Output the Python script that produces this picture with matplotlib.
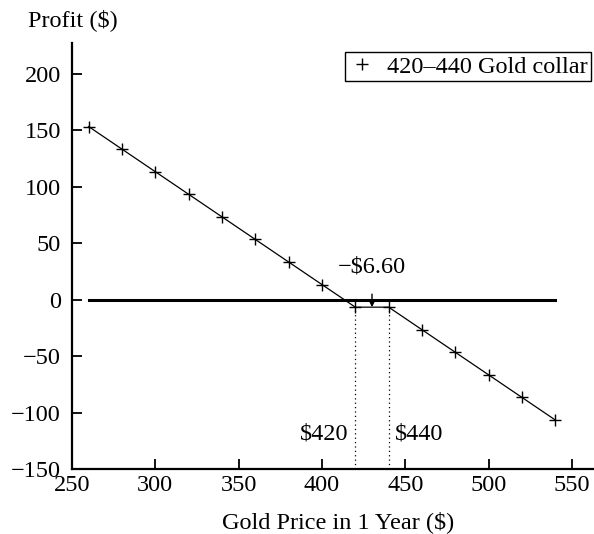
import matplotlib.pyplot as plt
from matplotlib.lines import Line2D

plt.rcParams['font.family'] = ['Liberation Serif', 'DejaVu Serif']
plt.rcParams['font.size'] = 17.5

# gold price at expiry and collar profit
gold_price = [260, 280, 300, 320, 340, 360, 380, 400, 420, 440, 460, 480, 500, 520, 540]
profit = [153.4, 133.4, 113.4, 93.4, 73.4, 53.4, 33.4, 13.4, -6.6, -6.6,
          -26.6, -46.6, -66.6, -86.6, -106.6]
x_ticks = [250, 300, 350, 400, 450, 500, 550]
y_ticks = [-150, -100, -50, 0, 50, 100, 150, 200]
strike_low, strike_high = 420, 440
min_profit = -6.6

fig = plt.figure(figsize=(5.94, 5.34), dpi=100)
ax = fig.add_axes([0.1212, 0.1217, 0.8788, 0.7983])

# zero line
ax.plot([gold_price[0], gold_price[-1]], [0, 0], color='black', lw=2.2)

ax.plot(gold_price, profit, color='black', lw=0.9, marker='+', ms=9, mew=1.0)

# dotted strike lines
for k in (strike_low, strike_high):
    ax.plot([k, k], [-150, min_profit], color='black', lw=0.9, ls=(0, (1, 2.5)))

ax.text(strike_low - 4, -119, '$420', ha='right', va='center')
ax.text(strike_high + 4, -119, '$440', ha='left', va='center')

ax.annotate('\u2212$6.60', xy=(430, min_profit), xytext=(430, 29),
            ha='center', va='center',
            arrowprops=dict(arrowstyle='-|>', color='black', lw=1.0,
                            shrinkA=10, shrinkB=0, mutation_scale=10))

ax.set_xlim(250, 563.2)
ax.set_ylim(-150, 227.7)
ax.set_xticks(x_ticks)
ax.set_yticks(y_ticks)
ax.set_yticklabels([str(v).replace('-', '\u2212') for v in y_ticks])

for s in ('top', 'right'):
    ax.spines[s].set_visible(False)
for s in ('left', 'bottom'):
    ax.spines[s].set_linewidth(1.6)
ax.tick_params(direction='in', length=7, width=1.3)
ax.tick_params(axis='y', pad=8)
ax.tick_params(axis='x', pad=4)

fig.text(0.047, 0.962, 'Profit ($)', ha='left', va='center')
fig.text(0.57, 0.022, 'Gold Price in 1 Year ($)', ha='center', va='center')

handle = Line2D([], [], color='black', marker='+', ls='none', ms=9, mew=1.0)
leg = fig.legend(handles=[handle], labels=['420\u2013440 Gold collar'],
                 loc='upper right', bbox_to_anchor=(0.995, 0.9026),
                 fancybox=False, edgecolor='black', framealpha=1,
                 handlelength=1.1, handletextpad=0.45, borderpad=0.15,
                 borderaxespad=0)
leg.get_frame().set_linewidth(1.0)

fig.savefig('out.png', dpi=100)
